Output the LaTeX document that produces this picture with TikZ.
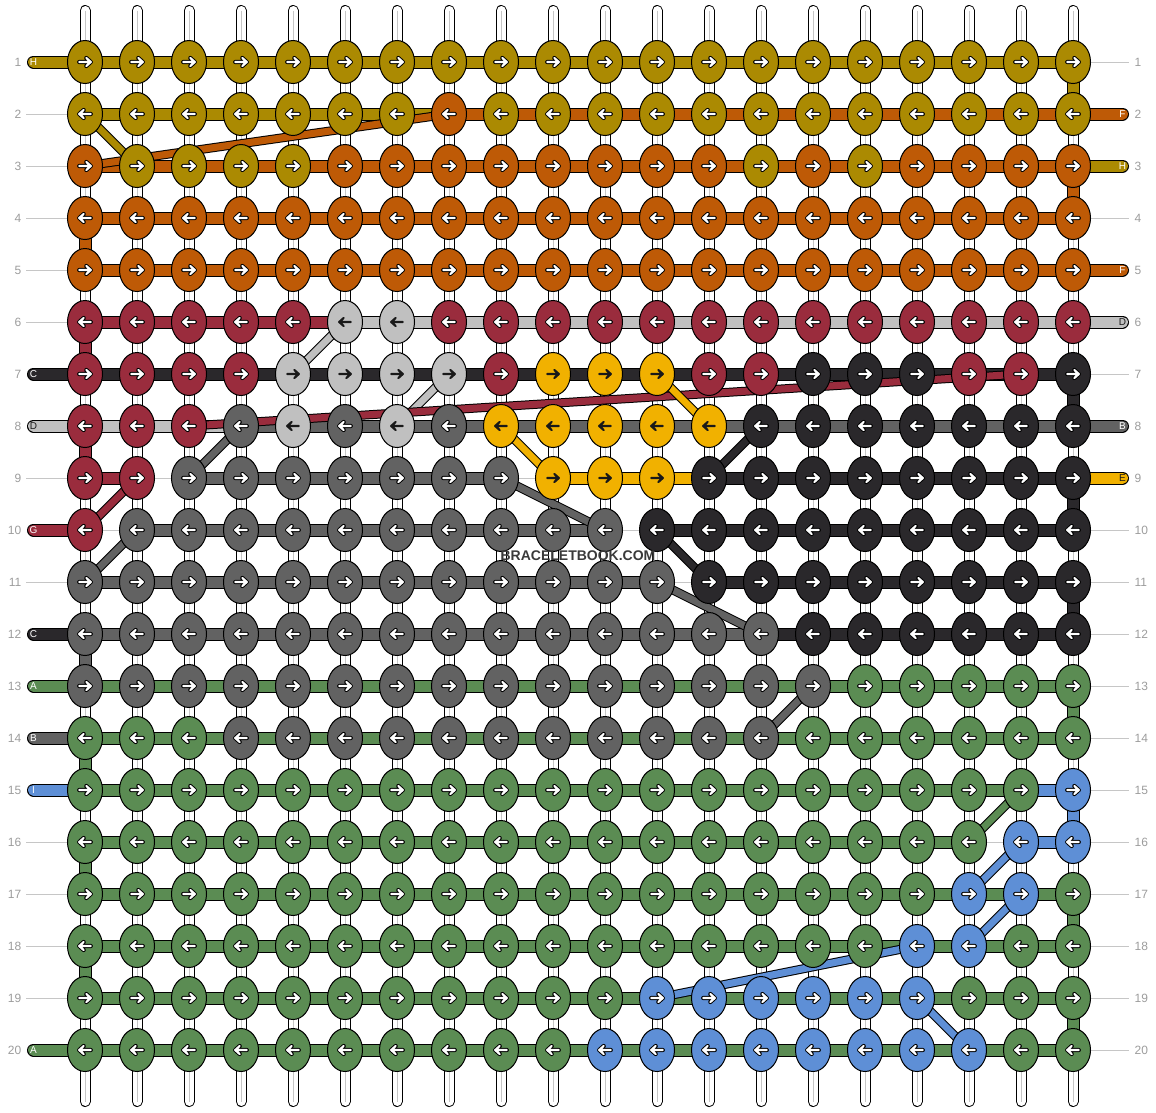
\documentclass[tikz,border=0pt]{standalone}
\usepackage{fontspec}
\setmainfont{Liberation Sans}
\usetikzlibrary{shapes}
\pgfdeclarelayer{background}
\pgfdeclarelayer{strands}
\pgfsetlayers{background,strands,main}

% string colours
\definecolor{colA}{HTML}{5B8C53}
\definecolor{colB}{HTML}{626262}
\definecolor{colC}{HTML}{2A282B}
\definecolor{colD}{HTML}{C0C0C0}
\definecolor{colE}{HTML}{F1B100}
\definecolor{colF}{HTML}{BE5A06}
\definecolor{colG}{HTML}{9A2C3D}
\definecolor{colH}{HTML}{AB8A02}
\definecolor{colI}{HTML}{5E8FD6}
\colorlet{inkA}{white}
\colorlet{inkB}{white}
\colorlet{inkC}{white}
\colorlet{inkD}{black!90}
\colorlet{inkE}{black!90}
\colorlet{inkF}{white}
\colorlet{inkG}{white}
\colorlet{inkH}{white}
\colorlet{inkI}{white}
\colorlet{rimA}{black}
\colorlet{rimB}{black}
\colorlet{rimC}{black}
\colorlet{rimD}{colD}
\colorlet{rimE}{colE}
\colorlet{rimF}{black}
\colorlet{rimG}{black}
\colorlet{rimH}{black}
\colorlet{rimI}{black}
\definecolor{guidegray}{HTML}{C6C6C6}
\definecolor{numgray}{HTML}{9C9C9C}
\definecolor{wmgray}{HTML}{3A3A3A}

\tikzset{
  knot/.style={ellipse, draw=black, line width=1pt, minimum width=35pt,
    minimum height=43pt, inner sep=0pt},
  arrowrim/.style={line width=4.2pt, line cap=round, line join=round},
  arrowline/.style={line width=2.2pt, line cap=round, line join=round},
  band/.style={line width=1pt, draw=black, double=#1, double distance=11pt},
  diag/.style={line width=1pt, draw=black, double=#1, double distance=7pt},
  stub/.style={band=#1, line cap=round},
  vstring/.style={line width=1pt, draw=black, double=white, double distance=9pt,
    line cap=round},
  core/.style={line width=0.8pt, draw=guidegray},
  guide/.style={line width=1pt, draw=guidegray},
  rownum/.style={font=\fontsize{12}{12}\selectfont, text=numgray, inner sep=0pt},
  tag/.style={font=\fontsize{10}{10}\selectfont, inner sep=0pt},
  wmtext/.style={font=\bfseries\fontsize{14}{14}\selectfont, inner sep=0pt}
}

\begin{document}
\begin{tikzpicture}[x=1pt,y=-1pt]
  \useasboundingbox (0,0) rectangle (1156,1112);

  % knots, row by row
  \foreach \rw/\runs in {
    1/{1/20/H},
    2/{1/7/H,8/8/F,9/20/H},
    3/{1/1/F,2/5/H,6/13/F,14/14/H,15/15/F,16/16/H,17/20/F},
    4/{1/20/F},
    5/{1/20/F},
    6/{1/5/G,6/7/D,8/20/G},
    7/{1/4/G,5/8/D,9/9/G,10/12/E,13/14/G,15/17/C,18/19/G,20/20/C},
    8/{1/3/G,4/4/B,5/5/D,6/6/B,7/7/D,8/8/B,9/13/E,14/20/C},
    9/{1/2/G,3/9/B,10/12/E,13/20/C},
    10/{1/1/G,2/11/B,12/20/C},
    11/{1/12/B,13/20/C},
    12/{1/14/B,15/20/C},
    13/{1/15/B,16/20/A},
    14/{1/3/A,4/14/B,15/20/A},
    15/{1/19/A,20/20/I},
    16/{1/18/A,19/20/I},
    17/{1/17/A,18/19/I,20/20/A},
    18/{1/16/A,17/18/I,19/20/A},
    19/{1/11/A,12/17/I,18/20/A},
    20/{1/10/A,11/18/I,19/20/A}}{
    \pgfmathtruncatemacro\dir{1-2*mod(\rw+1,2)}
    \foreach \ka/\kb/\cl in \runs {
      \foreach \kc in {\ka,...,\kb} {
        \node[knot, fill=col\cl] (k\rw-\kc) at ({33+52*\kc},{10+52*\rw}) {};
        \draw[arrowrim, draw=rim\cl, shift={(k\rw-\kc.center)}, xscale=\dir]
          (-5.8,0) -- (5.8,0) (1.3,-4) -- (5.8,0) -- (1.3,4);
        \draw[arrowline, draw=ink\cl, shift={(k\rw-\kc.center)}, xscale=\dir]
          (-5.8,0) -- (5.8,0) (1.3,-4) -- (5.8,0) -- (1.3,4);
      }
    }
  }

  % row ends and numbers
  \foreach \rw in {1,...,20} {
    \coordinate (L\rw) at (33.5,{10+52*\rw});
    \coordinate (R\rw) at (1122.5,{10+52*\rw});
    \node[rownum, anchor=east] (nl\rw) at (21.5,{10+52*\rw}) {\rw};
    \node[rownum, anchor=west] (nr\rw) at (1134.5,{10+52*\rw}) {\rw};
  }

  % base strings
  \begin{pgfonlayer}{background}
    \foreach \kc in {1,...,20} {
      \coordinate (t\kc) at ({33+52*\kc},10.5);
      \coordinate (b\kc) at ({33+52*\kc},1101.5);
      \draw[vstring] (t\kc) -- (b\kc);
      \draw[core] (t\kc) -- (b\kc);
    }
  \end{pgfonlayer}

  \begin{pgfonlayer}{strands}
    % thin guides
    \foreach \rw in {2,3,4,5,6,9,11,16,17,18,19}
      \draw[guide] ([xshift=-7.5pt]L\rw) -- (k\rw-1.center);
    \foreach \rw in {1,4,7,10,11,...,20}
      \draw[guide] (k\rw-20.center) -- ([xshift=6.5pt]R\rw);
    \foreach \rw/\ka/\kb in {9/2/3, 9/9/10, 10/1/2, 10/11/12, 11/12/13, 16/18/19}
      \draw[guide] (k\rw-\ka.center) -- (k\rw-\kb.center);

    % working strings along the rows
    \foreach \rw/\ka/\kb/\cl in {1/1/20/H, 2/1/8/H, 2/8/20/F, 3/1/20/F, 4/1/20/F,
        5/1/20/F, 6/1/6/G, 6/6/20/D, 7/1/20/C, 8/1/4/D, 8/4/20/B,
        9/1/2/G, 9/3/9/B, 9/10/13/E, 9/13/20/C, 10/2/11/B, 10/12/20/C,
        11/1/12/B, 11/13/20/C, 12/1/14/B, 12/14/20/C, 13/1/20/A, 14/1/20/A,
        15/1/19/A, 15/19/20/I, 16/1/18/A, 16/19/20/I, 17/1/20/A, 18/1/20/A,
        19/1/20/A, 20/1/20/A}
      \draw[band=col\cl] (k\rw-\ka.center) -- (k\rw-\kb.center);

    % turns at the edges
    \foreach \ra/\rb/\kc/\cl in {1/2/20/H, 3/4/20/F, 7/8/20/C, 9/10/20/C,
        11/12/20/C, 13/14/20/A, 15/16/20/I, 17/18/20/A, 19/20/20/A,
        4/5/1/F, 6/7/1/G, 8/9/1/G, 12/13/1/B, 14/15/1/A, 16/17/1/A, 18/19/1/A}
      \draw[band=col\cl] (k\ra-\kc.center) -- (k\rb-\kc.center);

    % loose ends
    \foreach \rw/\cl in {1/H,7/C,8/D,10/G,12/C,13/A,14/B,15/I,20/A}
      \draw[stub=col\cl] (L\rw) -- (k\rw-1.center);
    \foreach \rw/\cl in {2/F,3/H,5/F,6/D,8/B,9/E}
      \draw[stub=col\cl] (k\rw-20.center) -- (R\rw);

    % strings changing rows
    \foreach \ra/\ca/\rb/\cb/\cl in {2/1/3/2/H, 3/1/2/8/F, 6/6/7/5/D, 8/7/7/8/D,
        8/3/7/19/G, 7/12/8/13/E, 8/9/9/10/E, 8/14/9/13/C, 8/4/9/3/B,
        9/2/10/1/G, 9/9/10/11/B, 10/2/11/1/B, 10/12/11/13/C, 11/12/12/14/B,
        13/15/14/14/B, 15/19/16/18/A, 16/19/17/18/I, 17/19/18/18/I,
        18/17/19/12/I, 19/17/20/18/I}
      \draw[diag=col\cl] (k\ra-\ca.center) -- (k\rb-\cb.center);
  \end{pgfonlayer}

  % letters on the loose ends
  \foreach \rw/\cl in {1/H,7/C,8/D,10/G,12/C,13/A,14/B,15/I,20/A}
    \node[tag, text=ink\cl] (tl\rw) at (L\rw) {\cl};
  \foreach \rw/\cl in {2/F,3/H,5/F,6/D,8/B,9/E}
    \node[tag, text=ink\cl] (tr\rw) at (R\rw) {\cl};

  \node[wmtext, text=wmgray] (wm) at (578,556) {BRACELETBOOK.COM};
\end{tikzpicture}
\end{document}
